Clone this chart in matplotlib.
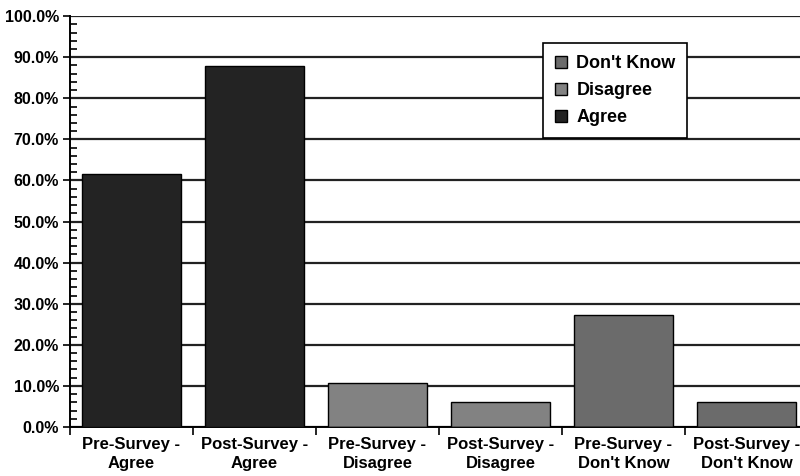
import matplotlib.pyplot as plt
from matplotlib.ticker import MultipleLocator, FuncFormatter

categories = ['Pre-Survey -\nAgree', 'Post-Survey -\nAgree',
              'Pre-Survey -\nDisagree', 'Post-Survey -\nDisagree',
              'Pre-Survey -\nDon\'t Know', 'Post-Survey -\nDon\'t Know']
agree = [61.6, 87.8, 0, 0, 0, 0]
disagree = [0, 0, 10.7, 6.1, 0, 0]
dont_know = [0, 0, 0, 0, 27.3, 6.1]


def main():
    plt.rcParams['font.family'] = ['Liberation Sans', 'DejaVu Sans']
    plt.rcParams['font.weight'] = 'bold'

    fig = plt.figure(figsize=(8.0, 4.76), dpi=100)
    ax = fig.add_axes([0.0875, 0.103, 0.9225, 0.863])

    x = range(len(categories))
    w = 0.8
    ax.bar(x, dont_know, w, color='#6b6b6b', edgecolor='black',
           linewidth=1, label="Don't Know", zorder=3)
    ax.bar(x, disagree, w, color='#828282', edgecolor='black',
           linewidth=1, label='Disagree', zorder=3)
    ax.bar(x, agree, w, color='#232323', edgecolor='black',
           linewidth=1, label='Agree', zorder=3)

    ax.set_xlim(-0.5, len(categories) - 0.5)
    ax.set_ylim(0, 100)
    ax.yaxis.set_major_locator(MultipleLocator(10))
    ax.yaxis.set_minor_locator(MultipleLocator(2))
    ax.yaxis.set_major_formatter(FuncFormatter(lambda v, p: '%.1f%%' % v))
    ax.yaxis.grid(True, which='major', color='#222222', linewidth=1.6, zorder=0)

    # category boundary ticks, labels centred under bars
    ax.set_xticks([i - 0.5 for i in range(len(categories) + 1)], minor=False)
    ax.set_xticklabels([])
    ax.set_xticks(list(x), minor=True)
    ax.set_xticklabels(categories, minor=True, fontsize=12, fontweight='bold',
                       linespacing=1.4)
    ax.tick_params(axis='x', which='major', direction='out', length=6, width=1.2)
    ax.tick_params(axis='x', which='minor', length=0, pad=7)
    ax.tick_params(axis='y', which='major', direction='out', length=5, width=1.2,
                   labelsize=11.5, pad=3)
    ax.tick_params(axis='y', which='minor', direction='in', length=5, width=1.2)

    for s in ['top', 'right']:
        ax.spines[s].set_visible(False)
    ax.spines['left'].set_linewidth(1.4)
    ax.spines['bottom'].set_linewidth(1.4)

    leg = ax.legend(loc='upper left', bbox_to_anchor=(0.641, 0.934),
                    borderaxespad=0, fontsize=13, frameon=True, fancybox=False,
                    handlelength=0.65, handleheight=0.65, handletextpad=0.55,
                    labelspacing=0.55, borderpad=0.65, edgecolor='black',
                    framealpha=1)
    leg.get_frame().set_linewidth(1.2)
    leg.set_zorder(5)

    fig.savefig('out.png', dpi=100)


if __name__ == '__main__':
    main()
